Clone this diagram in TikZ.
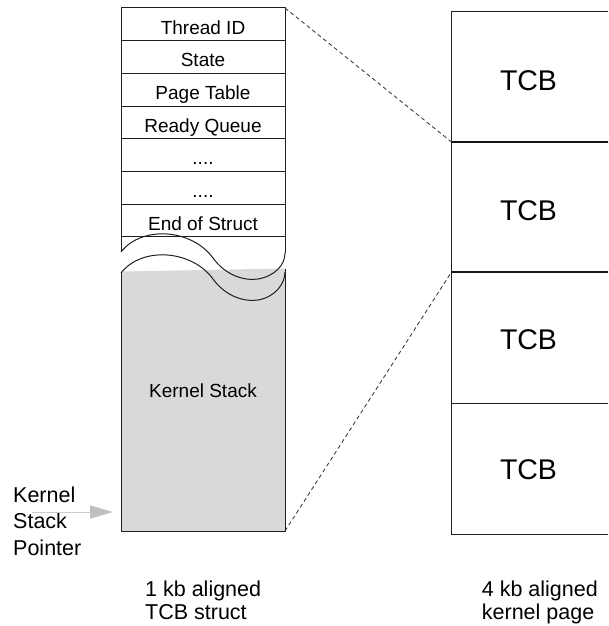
\documentclass[tikz,border=0pt]{standalone}
\usepackage{fontspec}
\setmainfont{Liberation Sans}
\usetikzlibrary{arrows.meta}
\begin{document}
\begin{tikzpicture}[x=1pt,y=-1pt,
  rule/.style={draw=black!88,line width=1pt},
  heavyrule/.style={draw=black!92,line width=2pt},
  fieldtext/.style={font=\fontsize{19}{23}\selectfont,anchor=base,inner sep=0pt},
  tcbtext/.style={font=\fontsize{28.5}{34}\selectfont,anchor=base,inner sep=0pt},
  captext/.style={font=\fontsize{21.5}{26}\selectfont,anchor=base west,inner sep=0pt},
  mapline/.style={draw=black!75,line width=0.9pt,dash pattern=on 4pt off 3pt},
  ptrarrow/.style={draw=black!20,line width=1pt,
    -{Triangle[length=23pt,width=13pt,color=black!25,fill=black!25]}},
]
\useasboundingbox (0,0) rectangle (608,626);
\clip (0,0) rectangle (608,626);

% kernel stack area (shaded)
\fill[black!15] (121,271.5) -- (285,268.5) -- (285,531) -- (121,531) -- cycle;

% TCB struct column
\draw[rule] (121,252) -- (121,8) -- (285,8) -- (285,253);
\foreach \y in {40.7,73.3,106,138.7,171.3,204,236.7}
  \draw[rule] (121,\y) -- (285,\y);
\draw[rule] (121,273) -- (121,531) -- (285,531) -- (285,269);

% torn edges of the struct
\draw[rule] (121,252) .. controls (142,225) and (192,229) .. (213,258)
  .. controls (226,276) and (245,281) .. (258,279)
  .. controls (275,276) and (285,265) .. (285,253);
\draw[rule] (121,273) .. controls (142,246) and (192,250) .. (213,279)
  .. controls (226,297) and (245,302) .. (258,300)
  .. controls (275,297) and (285,284) .. (285,272);

% struct fields
\node[fieldtext] (fThread) at (203,34.3)  {Thread ID};
\node[fieldtext] (fState)  at (203,66.9)  {State};
\node[fieldtext] (fPage)   at (203,99.6)  {Page Table};
\node[fieldtext] (fReady)  at (203,132.3) {Ready Queue};
\node[fieldtext] (fDotsA)  at (203,164.9) {....};
\node[fieldtext] (fDotsB)  at (203,197.6) {....};
\node[fieldtext] (fEnd)    at (203,230.3) {End of Struct};
\node[fieldtext] (kstack)  at (203,397.3) {Kernel Stack};

% kernel page column
\draw[rule] (612,12) -- (451.5,12) -- (451.5,534) -- (612,534);
\draw[heavyrule] (451.5,142) -- (612,142);
\draw[heavyrule] (451.5,272) -- (612,272);
\draw[rule] (451.5,403) -- (612,403);
\node[tcbtext] (tcbA) at (528.5,90)    {TCB};
\node[tcbtext] (tcbB) at (528.5,220)   {TCB};
\node[tcbtext] (tcbC) at (528.5,349.5) {TCB};
\node[tcbtext] (tcbD) at (528.5,479)   {TCB};

% mapping of the struct onto the page
\coordinate (structTop) at (285,8);
\coordinate (structBot) at (285,531);
\coordinate (pageCutA)  at (451.5,142);
\coordinate (pageCutB)  at (451.5,272);
\draw[mapline] (structTop) -- (pageCutA);
\draw[mapline] (structBot) -- (pageCutB);

% stack pointer
\node[captext] (ptrA) at (13,502)   {Kernel};
\node[captext] (ptrB) at (13,528.5) {Stack};
\node[captext] (ptrC) at (13,555)   {Pointer};
\coordinate (ptrTail) at (32,512);
\coordinate (ptrTip)  at (113,512);
\draw[ptrarrow] (ptrTail) -- (ptrTip);

% captions
\node[captext] (capA1) at (145,596.7)   {1 kb aligned};
\node[captext] (capA2) at (145,619.3)   {TCB struct};
\node[captext] (capB1) at (481.7,596.7) {4 kb aligned};
\node[captext] (capB2) at (481.7,619.3) {kernel page};
\end{tikzpicture}
\end{document}
